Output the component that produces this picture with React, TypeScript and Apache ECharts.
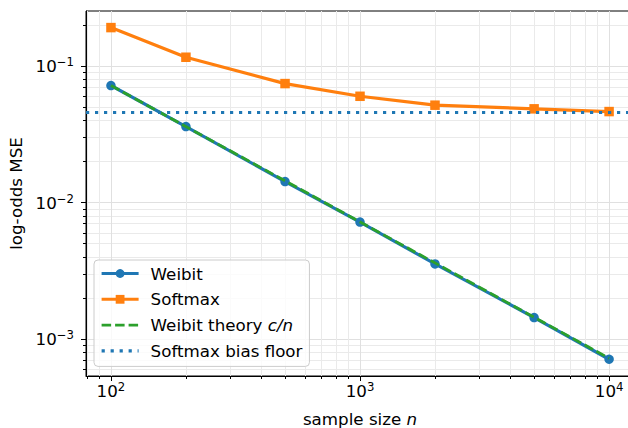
import React, { useEffect, useRef } from "react";
import * as echarts from "echarts";

// ---- data ----
const sampleSizes = [100, 200, 500, 1000, 2000, 5000, 10000];
const weibitMSE = [0.0722, 0.0361, 0.01425, 0.0072, 0.00355, 0.001435, 0.00071];
const softmaxMSE = [0.192, 0.1164, 0.0746, 0.0602, 0.0518, 0.0487, 0.0465];
const theoryN = [100, 10000];
const theoryMSE = [0.0722, 0.000722];
const biasFloor = 0.0452;

const xMajorTicks = [100, 1000, 10000];
const xMinorTicks = [80, 90, 200, 300, 400, 500, 600, 700, 800, 900, 2000, 3000, 4000, 5000, 6000, 7000, 8000, 9000];
const yMajorTicks = [0.001, 0.01, 0.1];
const yMinorTicks = [
  0.0006, 0.0007, 0.0008, 0.0009,
  0.002, 0.003, 0.004, 0.005, 0.006, 0.007, 0.008, 0.009,
  0.02, 0.03, 0.04, 0.05, 0.06, 0.07, 0.08, 0.09,
  0.2,
];
const xRange = [79.4, 12590];
const yRange = [0.000535, 0.2541];

const seriesNames = ["Weibit", "Softmax", "Weibit theory c/n", "Softmax bias floor"];

const L = (v: number) => Math.log10(v);
const FONT = "DejaVu Sans";
const FS = 16.7;
const BLUE = "#1f77b4";
const ORANGE = "#ff7f0e";
const GREEN = "#2ca02c";

const supLabel = (v: number) => {
  const e = Math.round(v);
  const s = e < 0 ? "\u2212" + Math.abs(e) : String(e);
  return `{b|10}{s|${s}}`;
};
const labelRich = {
  b: { fontFamily: FONT, fontSize: FS, lineHeight: 20, color: "#000" },
  s: { fontFamily: FONT, fontSize: 11.7, lineHeight: 11, color: "#000", verticalAlign: "top" },
};

export default function App() {
  const ref = useRef<HTMLDivElement>(null);
  useEffect(() => {
    if (!ref.current) return;
    const chart = echarts.init(ref.current, undefined, { renderer: "svg" });
    const xMin = L(xRange[0]);
    const xMax = L(xRange[1]);
    const yMin = L(yRange[0]);
    const yMax = L(yRange[1]);
    const option: any = {
      animation: false,
      backgroundColor: "#fff",
      grid: {
        left: 86,
        right: -6,
        top: 11,
        bottom: 52,
        show: true,
        borderColor: "#000",
        borderWidth: 1,
        backgroundColor: "transparent",
        outerBoundsMode: "none",
        containLabel: false,
      },
      xAxis: [
        {
          type: "value",
          min: xMin,
          max: xMax,
          position: "bottom",
          name: "sample size {i|n}",
          nameLocation: "middle",
          nameGap: 34,
          nameTextStyle: {
            fontFamily: FONT,
            fontSize: FS,
            color: "#000",
            rich: { i: { fontFamily: FONT, fontSize: FS, fontStyle: "italic", color: "#000" } },
          },
          axisLine: { show: true, lineStyle: { color: "#000", width: 1 } },
          axisTick: { show: true, customValues: xMajorTicks.map(L), length: 5, lineStyle: { color: "#000", width: 1 } },
          axisLabel: {
            show: true,
            customValues: xMajorTicks.map(L),
            margin: 5,
            formatter: supLabel,
            rich: labelRich,
          },
          splitLine: { show: true, lineStyle: { color: "#e0e0e0", width: 1 } },
        },
        {
          type: "value",
          min: xMin,
          max: xMax,
          position: "bottom",
          axisLine: { show: false },
          axisTick: { show: true, customValues: xMinorTicks.map(L), length: 3, lineStyle: { color: "#000", width: 1 } },
          axisLabel: { show: false },
          splitLine: { show: true, lineStyle: { color: "#eaeaea", width: 1 } },
        },
      ],
      yAxis: [
        {
          type: "value",
          min: yMin,
          max: yMax,
          position: "left",
          name: "log-odds MSE",
          nameLocation: "middle",
          nameGap: 60,
          nameTextStyle: { fontFamily: FONT, fontSize: FS, color: "#000" },
          axisLine: { show: true, lineStyle: { color: "#000", width: 1 } },
          axisTick: { show: true, customValues: yMajorTicks.map(L), length: 5, lineStyle: { color: "#000", width: 1 } },
          axisLabel: {
            show: true,
            customValues: yMajorTicks.map(L),
            margin: 12,
            formatter: supLabel,
            rich: labelRich,
          },
          splitLine: { show: true, lineStyle: { color: "#e0e0e0", width: 1 } },
        },
        {
          type: "value",
          min: yMin,
          max: yMax,
          position: "left",
          axisLine: { show: false },
          axisTick: { show: true, customValues: yMinorTicks.map(L), length: 3, lineStyle: { color: "#000", width: 1 } },
          axisLabel: { show: false },
          splitLine: { show: true, lineStyle: { color: "#eaeaea", width: 1 } },
        },
      ],
      legend: {
        show: true,
        orient: "vertical",
        left: 94,
        top: 260,
        itemWidth: 37,
        itemHeight: 11,
        itemGap: 8.8,
        padding: [5, 7, 7, 6],
        backgroundColor: "rgba(255,255,255,0.8)",
        borderColor: "#cccccc",
        borderWidth: 1,
        borderRadius: 4,
        data: [
          { name: seriesNames[0], lineStyle: { width: 3 } },
          { name: seriesNames[1], lineStyle: { width: 3 } },
          { name: seriesNames[2], lineStyle: { width: 2.6 }, itemStyle: { opacity: 0 } },
          { name: seriesNames[3], lineStyle: { width: 3.2 }, itemStyle: { opacity: 0 } },
        ],
        formatter: (name: string) => (name === "Weibit theory c/n" ? "Weibit theory {i|c/n}" : name),
        textStyle: {
          fontFamily: FONT,
          fontSize: FS,
          lineHeight: 17,
          color: "#000",
          padding: [0, 0, 0, 7],
          rich: { i: { fontFamily: FONT, fontSize: FS, fontStyle: "italic", color: "#000" } },
        },
      },
      series: [
        {
          name: seriesNames[0],
          type: "line",
          xAxisIndex: 0,
          yAxisIndex: 0,
          data: sampleSizes.map((n, i) => [L(n), L(weibitMSE[i])]),
          symbol: "circle",
          symbolSize: 9.5,
          itemStyle: { color: BLUE },
          lineStyle: { color: BLUE, width: 3.2 },
          z: 2,
        },
        {
          name: seriesNames[1],
          type: "line",
          xAxisIndex: 0,
          yAxisIndex: 0,
          data: sampleSizes.map((n, i) => [L(n), L(softmaxMSE[i])]),
          symbol: "rect",
          symbolSize: 9.5,
          itemStyle: { color: ORANGE },
          lineStyle: { color: ORANGE, width: 3.2 },
          z: 3,
        },
        {
          name: seriesNames[2],
          type: "line",
          xAxisIndex: 0,
          yAxisIndex: 0,
          data: theoryN.map((n, i) => [L(n), L(theoryMSE[i])]),
          symbol: "none",
          itemStyle: { color: GREEN },
          lineStyle: { color: GREEN, width: 2.8, type: [9.5, 4] },
          z: 4,
        },
        {
          name: seriesNames[3],
          type: "line",
          xAxisIndex: 0,
          yAxisIndex: 0,
          data: [],
          symbol: "none",
          itemStyle: { color: BLUE },
          lineStyle: { color: BLUE, width: 3.2, type: [3.2, 5.8] },
          z: 5,
          markLine: {
            silent: true,
            symbol: ["none", "none"],
            label: { show: false },
            lineStyle: { color: BLUE, width: 3.2, type: [3.2, 5.8] },
            data: [{ yAxis: L(biasFloor) }],
          },
        },
      ],
    };
    chart.setOption(option);
    return () => chart.dispose();
  }, []);
  return (
    <div
      ref={ref}
      style={{ position: "absolute", left: 0, top: 0, width: 628, height: 428, background: "#fff" }}
    />
  );
}
